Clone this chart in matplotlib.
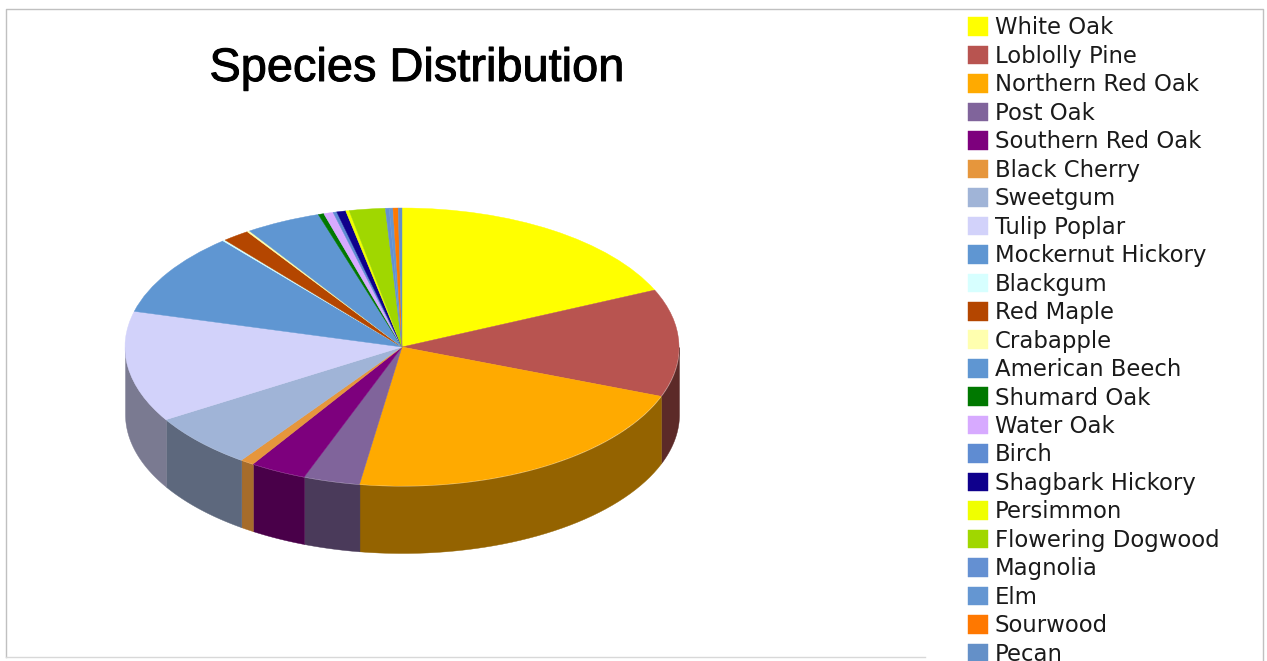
import numpy as np
import matplotlib
matplotlib.use('Agg')
import matplotlib.pyplot as plt
import matplotlib.patheffects as pe
from matplotlib.colors import to_rgb

especies = ['White Oak', 'Loblolly Pine', 'Northern Red Oak', 'Post Oak', 'Southern Red Oak',
            'Black Cherry', 'Sweetgum', 'Tulip Poplar', 'Mockernut Hickory', 'Blackgum',
            'Red Maple', 'Crabapple', 'American Beech', 'Shumard Oak', 'Water Oak', 'Birch',
            'Shagbark Hickory', 'Persimmon', 'Flowering Dogwood', 'Magnolia', 'Elm',
            'Sourwood', 'Pecan']
porcentajes = [18.3, 12.5, 21.7, 3.3, 3.3,
               0.8, 6.4, 12.9, 9.7, 0.15,
               1.6, 0.15, 4.4, 0.33, 0.55, 0.22,
               0.53, 0.2, 2.1, 0.22, 0.22,
               0.3, 0.22]
colores = ['#FFFF00', '#B85450', '#FFAA00', '#80649B', '#7D007D',
           '#E6963C', '#A0B4D7', '#D2D2FA', '#5F96D2', '#D7FFFF',
           '#B44600', '#FFFFAF', '#5F96D2', '#007800', '#D7AAFF', '#5F8CD2',
           '#0F008C', '#F0FF00', '#A0D700', '#6490D2', '#6496D2',
           '#FF7800', '#6490C8']

ANCHO, ALTO = 1267, 661
# Centro y semiejes de la elipse, en pixeles.
cx, cy, rx, ry = 402, 347, 277, 139
grosor = 67 / ry

fig = plt.figure(figsize=(ANCHO / 100, ALTO / 100), dpi=100)
ax = fig.add_axes([0, 0, 1, 1])

# La tarta se deforma en elipse dejando el aspecto en auto.
wedges, _ = ax.pie(porcentajes, colors=colores, startangle=90, counterclock=False, radius=1)
for w in wedges:
    w.set_edgecolor(w.get_facecolor())
    w.set_linewidth(0.3)
    w.set_zorder(3)
ax.set_aspect('auto')
ax.set_xlim(-cx / rx, (ANCHO - cx) / rx)
ax.set_ylim((cy - ALTO) / ry, cy / ry)

# Pared lateral: solo la mitad frontal (90 a 270 grados desde arriba).
bordes = np.cumsum([0] + porcentajes) / np.sum(porcentajes) * 360
for i in range(len(porcentajes)):
    t0 = max(bordes[i], 90)
    t1 = min(bordes[i + 1], 270)
    if t1 <= t0:
        continue
    t = np.radians(np.linspace(t0, t1, 40))
    x = np.sin(t)
    y = np.cos(t)
    factor = 0.5 if bordes[i + 1] < 115 else 0.58
    if especies[i] == 'Black Cherry':
        factor = 0.72
    oscuro = tuple(c * factor for c in to_rgb(colores[i]))
    ax.fill_between(x, y - grosor, y, color=oscuro, linewidth=0.3, zorder=2)

titulo = ax.text(417 / ANCHO, 1 - 69 / ALTO, 'Species Distribution', transform=ax.transAxes,
                 ha='center', va='center', fontsize=33.8, color='black', family='Liberation Sans')
titulo.set_path_effects([pe.withStroke(linewidth=0.7, foreground='black')])

ax.legend(wedges, especies, loc='upper left', bbox_to_anchor=(968 / ANCHO, 1 - 16.5 / ALTO),
          bbox_transform=ax.transAxes, frameon=False, fontsize=16.4, borderpad=0, borderaxespad=0,
          handlelength=0.88, handleheight=0.88, handletextpad=0.3, labelspacing=0.24,
          labelcolor='#1A1A1A')

# Marco de la imagen.
ax.plot([6 / ANCHO, 6 / ANCHO, 1263 / ANCHO, 1263 / ANCHO], [1 - 657 / ALTO, 1 - 9 / ALTO, 1 - 9 / ALTO, 0],
        transform=ax.transAxes, color='#C0C0C0', linewidth=1)
ax.plot([6 / ANCHO, 925 / ANCHO], [1 - 657 / ALTO, 1 - 657 / ALTO],
        transform=ax.transAxes, color='#D8D8D8', linewidth=1)

fig.savefig('out.png', dpi=100)
